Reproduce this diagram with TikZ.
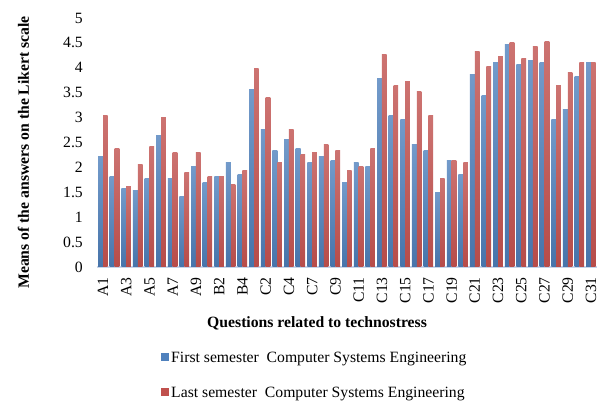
\documentclass[tikz,border=0pt]{standalone}
\usepackage{fontspec}
\setmainfont{Liberation Serif}
\usepackage{tikz}
\usepackage{xcolor}
\usetikzlibrary{positioning}
\definecolor{semblue}{RGB}{79,129,189}
\definecolor{semred}{RGB}{192,80,77}
\definecolor{axisline}{RGB}{200,212,232}
\newcommand{\chartsize}{\fontsize{15.7}{18}\selectfont}
\tikzset{
  firstbar/.style={top color=semblue!80!white, bottom color=semblue!90!black},
  lastbar/.style={top color=semred!80!white, bottom color=semred!95!black},
  ticklabel/.style={anchor=east, inner sep=0pt},
  catlabel/.style={anchor=east, rotate=90, inner sep=0pt},
  axistitle/.style={font=\chartsize\bfseries, inner sep=0pt},
  legendkey/.style={rectangle, minimum size=8pt, inner sep=0pt}
}

\begin{document}
\begin{tikzpicture}[x=11.62pt, y=49.8pt, font=\chartsize]
\useasboundingbox (-7.864,-2.671) rectangle (44.80,5.361);
\draw[axisline, line width=1.5pt] (0.45,0) -- (43.55,0);
\foreach \i/\b/\r in {
  1/2.21/3.05, 2/1.81/2.37, 3/1.57/1.61, 4/1.53/2.05, 5/1.77/2.41,
  6/2.65/3.01, 7/1.77/2.29, 8/1.41/1.89, 9/2.01/2.29, 10/1.69/1.81,
  11/1.81/1.81, 12/2.09/1.65, 13/1.85/1.93, 14/3.57/3.98, 15/2.77/3.41,
  16/2.33/2.09, 17/2.57/2.77, 18/2.37/2.25, 19/2.09/2.29, 20/2.21/2.45,
  21/2.13/2.33, 22/1.69/1.93, 23/2.09/2.01, 24/2.01/2.37, 25/3.78/4.26,
  26/3.05/3.65, 27/2.97/3.73, 28/2.45/3.53, 29/2.33/3.05, 30/1.49/1.77,
  31/2.13/2.13, 32/1.85/2.09, 33/3.86/4.32, 34/3.45/4.02, 35/4.10/4.22,
  36/4.46/4.50, 37/4.06/4.18, 38/4.14/4.42, 39/4.10/4.52, 40/2.97/3.65,
  41/3.17/3.90, 42/3.82/4.10, 43/4.10/4.10}{
    \shade[firstbar] (\i-0.42,0) rectangle (\i,\b);
    \shade[lastbar] (\i,0) rectangle (\i+0.40,\r);
}
% value axis
\foreach \v in {0,0.5,1,1.5,2,2.5,3,3.5,4,4.5,5}
  \node[ticklabel] (tick\v) at (-0.72,\v) {\v};
% question labels
\foreach \i/\lab in {1/A1, 3/A3, 5/A5, 7/A7, 9/A9, 11/B2, 13/B4, 15/C2,
  17/C4, 19/C7, 21/C9, 23/C11, 25/C13, 27/C15, 29/C17, 31/C19, 33/C21,
  35/C23, 37/C25, 39/C27, 41/C29, 43/C31}
  \node[catlabel] (cat\lab) at (\i,-0.2) {\lab};
\node[axistitle, rotate=90] (ytitle) at (-5.85,2.30) {Means of the answers on the Likert scale};
\node[axistitle, anchor=base] (xtitle) at (19.42,-1.22) {Questions related to technostress};
% legend
\node[legendkey, fill=semblue] (keyfirst) at (6.34,-1.807) {};
\node[anchor=base west, inner sep=0pt] (txtfirst) at (6.85,-1.92)
  {First semester\ \ Computer Systems Engineering};
\node[legendkey, fill=semred] (keylast) at (6.34,-2.51) {};
\node[anchor=base west, inner sep=0pt] (txtlast) at (6.85,-2.63)
  {Last semester\ \ Computer Systems Engineering};
\end{tikzpicture}
\end{document}
